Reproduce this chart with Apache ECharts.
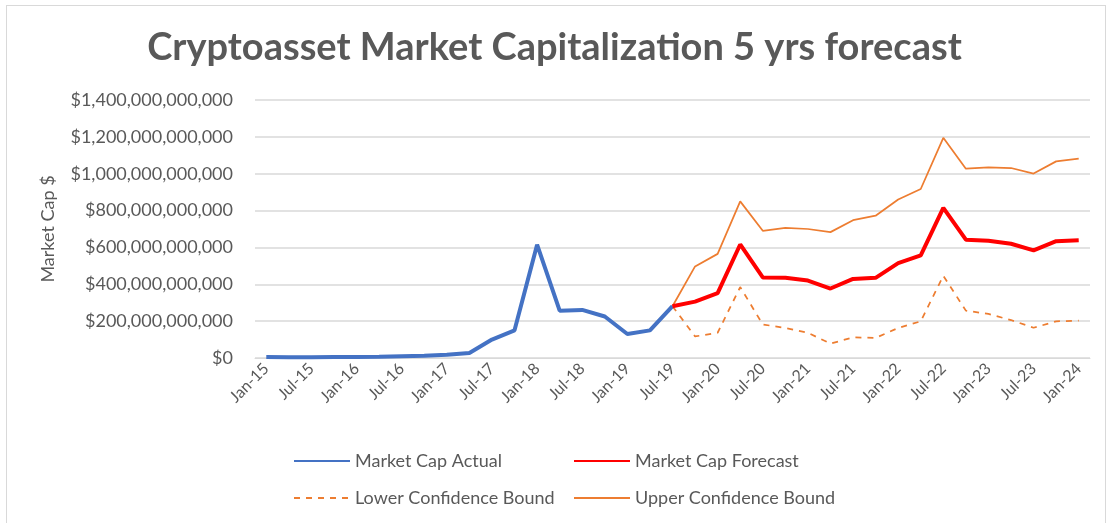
<!DOCTYPE html>
<html>
<head>
<meta charset="utf-8">
<script src="https://cdn.jsdelivr.net/npm/echarts@6/dist/echarts.min.js"></script>
<style>
  html, body { margin: 0; padding: 0; background: #fff; }
  #frame { position: absolute; left: 6px; top: 5px; width: 1100px; height: 530px; border: 1px solid #d9d9d9; box-sizing: border-box; }
  #chart { position: absolute; left: 0; top: 0; width: 1109px; height: 523px; }
</style>
</head>
<body>
<div id="frame"></div>
<div id="chart"></div>
<script>
// quarterly dates, Jan-15 .. Jan-24
const quarters = [
  'Jan-15', 'Apr-15', 'Jul-15', 'Oct-15', 'Jan-16', 'Apr-16', 'Jul-16', 'Oct-16',
  'Jan-17', 'Apr-17', 'Jul-17', 'Oct-17', 'Jan-18', 'Apr-18', 'Jul-18', 'Oct-18',
  'Jan-19', 'Apr-19', 'Jul-19', 'Oct-19', 'Jan-20', 'Apr-20', 'Jul-20', 'Oct-20',
  'Jan-21', 'Apr-21', 'Jul-21', 'Oct-21', 'Jan-22', 'Apr-22', 'Jul-22', 'Oct-22',
  'Jan-23', 'Apr-23', 'Jul-23', 'Oct-23', 'Jan-24'
];

// values in billions of dollars
const actual = [
  5, 4, 4, 5, 6, 7, 10, 12,
  17, 27, 100, 150, 615, 257, 261, 225,
  130, 150, 281
];
const forecast = [
  281, 306, 352, 616, 437, 436, 420, 377, 429, 435,
  515, 557, 815, 642, 636, 620, 584, 634, 639
];
const lowerBound = [
  281, 117, 137, 385, 182, 163, 137, 78, 112, 109,
  163, 199, 446, 257, 239, 206, 164, 199, 203
];
const upperBound = [
  281, 497, 565, 850, 690, 706, 700, 683, 748, 772,
  860, 917, 1195, 1027, 1035, 1031, 1001, 1067, 1082
];

const BILLION = 1e9;
const pad = (arr, start) => quarters.map((q, i) =>
  i < start || i - start >= arr.length ? null : arr[i - start] * BILLION);
const forecastStart = actual.length - 1;

const textColor = '#595959';
const font = 'Lato, "Open Sans", sans-serif';

const chart = echarts.init(document.getElementById('chart'));

function legendAt(name, left, top) {
  return {
    data: [name],
    left: left,
    top: top,
    itemWidth: 56,
    itemHeight: 14,
    itemGap: 8,
    itemStyle: { opacity: 0 },
    textStyle: { color: textColor, fontSize: 18, fontFamily: font }
  };
}

chart.setOption({
  animation: false,
  title: {
    text: 'Cryptoasset Market Capitalization 5 yrs forecast',
    left: 'center',
    top: 24,
    textStyle: { color: textColor, fontSize: 38, fontWeight: 'bold', fontFamily: font }
  },
  legend: [
    legendAt('Market Cap Actual', 288, 447),
    legendAt('Market Cap Forecast', 568, 447),
    legendAt('Lower Confidence Bound', 288, 484),
    legendAt('Upper Confidence Bound', 568, 484)
  ],
  grid: { left: 255, right: 19, top: 100, bottom: 165, containLabel: false },
  xAxis: {
    type: 'category',
    data: quarters,
    boundaryGap: true,
    axisLine: { lineStyle: { color: '#d9d9d9' } },
    axisTick: { show: false },
    axisLabel: {
      interval: 1,
      rotate: 45,
      color: textColor,
      fontSize: 16,
      fontFamily: font,
      margin: 8
    }
  },
  yAxis: {
    type: 'value',
    min: 0,
    max: 1400 * BILLION,
    interval: 200 * BILLION,
    name: 'Market Cap $',
    nameLocation: 'middle',
    nameGap: 198,
    nameTextStyle: { color: textColor, fontSize: 18, fontFamily: font },
    axisLine: { show: false },
    axisTick: { show: false },
    splitLine: { lineStyle: { color: '#d9d9d9', width: 1.5 } },
    axisLabel: {
      color: textColor,
      fontSize: 18,
      fontFamily: font,
      margin: 22,
      formatter: v => '$' + Math.round(v).toLocaleString('en-US')
    }
  },
  series: [
    {
      name: 'Market Cap Actual',
      type: 'line',
      data: pad(actual, 0),
      symbol: 'none',
      lineStyle: { color: '#4472c4', width: 4 },
      itemStyle: { color: '#4472c4' },
      z: 3
    },
    {
      name: 'Market Cap Forecast',
      type: 'line',
      data: pad(forecast, forecastStart),
      symbol: 'none',
      lineStyle: { color: '#ff0000', width: 4 },
      itemStyle: { color: '#ff0000' },
      z: 4
    },
    {
      name: 'Lower Confidence Bound',
      type: 'line',
      data: pad(lowerBound, forecastStart),
      symbol: 'none',
      lineStyle: { color: '#ed7d31', width: 1.75, type: [6, 6] },
      itemStyle: { color: '#ed7d31' },
      z: 2
    },
    {
      name: 'Upper Confidence Bound',
      type: 'line',
      data: pad(upperBound, forecastStart),
      symbol: 'none',
      lineStyle: { color: '#ed7d31', width: 1.75 },
      itemStyle: { color: '#ed7d31' },
      z: 2
    }
  ]
});
</script>
</body>
</html>
